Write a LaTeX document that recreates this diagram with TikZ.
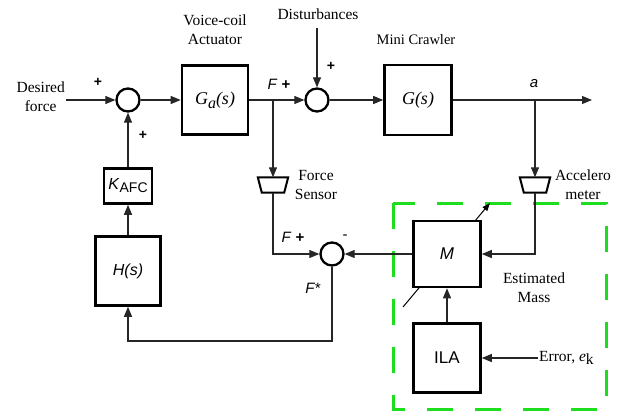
\documentclass[tikz,border=0pt]{standalone}
\usepackage{fontspec}
\setmainfont{Liberation Serif}
\setsansfont{Liberation Sans}
\usetikzlibrary{arrows.meta}
\definecolor{dgreen}{RGB}{30,220,30}
\begin{document}
\begin{tikzpicture}[x=1pt,y=-1pt,
  blk/.style={draw, line width=2.6pt, inner sep=0pt, fill=white},
  sum/.style={circle, draw, line width=2.3pt, minimum size=23pt, inner sep=0pt},
  ln/.style={line width=1.1pt, draw=black!85},
  arr/.style={ln, -{Triangle[length=10pt,width=8pt]}},
  lbl/.style={font=\fontsize{15.5}{19}\selectfont, align=center, inner sep=1pt},
  sl/.style={font=\sffamily\fontsize{15}{17}\selectfont, inner sep=1pt},
  pl/.style={font=\sffamily\bfseries\fontsize{14}{16}\selectfont, inner sep=0pt},
  trapbox/.style={inner sep=0pt, minimum width=30pt, minimum height=15pt},
  trapline/.style={line width=2pt, line join=miter},
  gbox/.style={draw=dgreen, line width=3pt, dash pattern=on 26pt off 22pt}
]
\useasboundingbox (0,0) rectangle (624,412);

% labels
\node[lbl, anchor=east] (desired) at (66,97) {Desired\\force};
\node[lbl] (vc) at (215,30) {Voice-coil\\Actuator};
\node[lbl] (dtext) at (318,14) {Disturbances};
\node[lbl, font=\fontsize{14.5}{16}\selectfont] (mc) at (416,40) {Mini Crawler};
\node[lbl] (fstext) at (316,185) {Force\\Sensor};
\node[lbl] (actext) at (583,185) {Accelero\\meter};
\node[lbl] (emtext) at (534,288) {Estimated\\Mass};

% sums and blocks
\node[sum] (s1) at (128,100) {};
\node[sum] (s2) at (317,100) {};
\node[sum] (s3) at (332,254) {};
\node[blk, minimum width=66pt, minimum height=69pt, font=\itshape\fontsize{18}{20}\selectfont] (ga) at (215,100) {G\raisebox{-0.45ex}{\fontsize{16}{18}\selectfont a}(s)};
\node[blk, minimum width=67pt, minimum height=70pt, font=\itshape\fontsize{18}{20}\selectfont] (g) at (418,100) {G(s)};
\node[blk, minimum width=48pt, minimum height=35pt, font=\sffamily\fontsize{16}{18}\selectfont] (k) at (128,186) {\textit{K}\raisebox{-0.35ex}{\fontsize{14}{16}\selectfont AFC}};
\node[blk, minimum width=65pt, minimum height=69pt, font=\sffamily\itshape\fontsize{16}{18}\selectfont] (h) at (128,271) {H(s)};
\node[blk, minimum width=67pt, minimum height=69pt, font=\sffamily\fontsize{17}{19}\selectfont] (ila) at (447,358) {ILA};

% trapezoid sensors
\node[trapbox] (fs) at (273,185) {};
\draw[trapline] (fs.north west) -- (fs.north east) -- ([xshift=-4pt]fs.south east) -- ([xshift=4pt]fs.south west) -- cycle;
\node[trapbox] (acc) at (535,185) {};
\draw[trapline] (acc.north west) -- (acc.north east) -- ([xshift=-4pt]acc.south east) -- ([xshift=4pt]acc.south west) -- cycle;

% green dashed box
\draw[gbox] (393,203) rectangle (606,409);

% diagonal adjustable arrow (drawn under M)
\coordinate (d1) at (403,307);
\coordinate (d2) at (490,203);
\draw[line width=1pt, -{Triangle[length=8pt,width=6pt]}] (d1) -- (d2);
\node[blk, minimum width=67pt, minimum height=66pt, font=\sffamily\itshape\fontsize{17}{19}\selectfont] (m) at (447,254) {M};

% coordinates
\coordinate (fb) at (273,100);
\coordinate (ab) at (535,100);
\coordinate (out) at (592,100);
\coordinate (dist) at (317,28);
\coordinate (fbk) at (128,341);

% connectors
\draw[arr] (desired.east |- s1) -- (s1.west);
\draw[arr] (s1.east) -- (ga.west);
\draw[arr] (ga.east) -- (s2.west);
\draw[arr] (dist) -- (s2.north);
\draw[arr] (s2.east) -- (g.west);
\draw[arr] (g.east) -- (out);
\draw[arr] (fb) -- (fs.north);
\draw[arr] (ab) -- (acc.north);
\draw[arr] (fs.south) |- (s3.west);
\draw[arr] (acc.south) |- (m.east);
\draw[arr] (m.west) -- (s3.east);
\draw[arr] (s3.south) |- (fbk) -- (h.south);
\draw[arr] (h.north) -- (k.south);
\draw[arr] (k.north) -- (s1.south);
\draw[arr] (ila.north) -- (m.south);
\node[lbl, anchor=west] (err) at (538,358) {Error, \textit{e}\raisebox{-0.45ex}{k}};
\draw[arr] (err.west) -- (ila.east);

% signs and signal labels
\node[pl] (p1) at (98,82) {+};
\node[pl] (p2) at (143,135) {+};
\node[pl] (p3) at (331,66) {+};
\node[sl] (ftop) at (279,84) {\textit{F} \textbf{+}};
\node[sl] (fbot) at (293,237) {\textit{F} \textbf{+}};
\node[sl] (minus) at (345,237) {-};
\node[sl] (fstar) at (313,288) {\textit{F*}};
\node[sl] (alab) at (534,84) {\textit{a}};
\end{tikzpicture}
\end{document}
